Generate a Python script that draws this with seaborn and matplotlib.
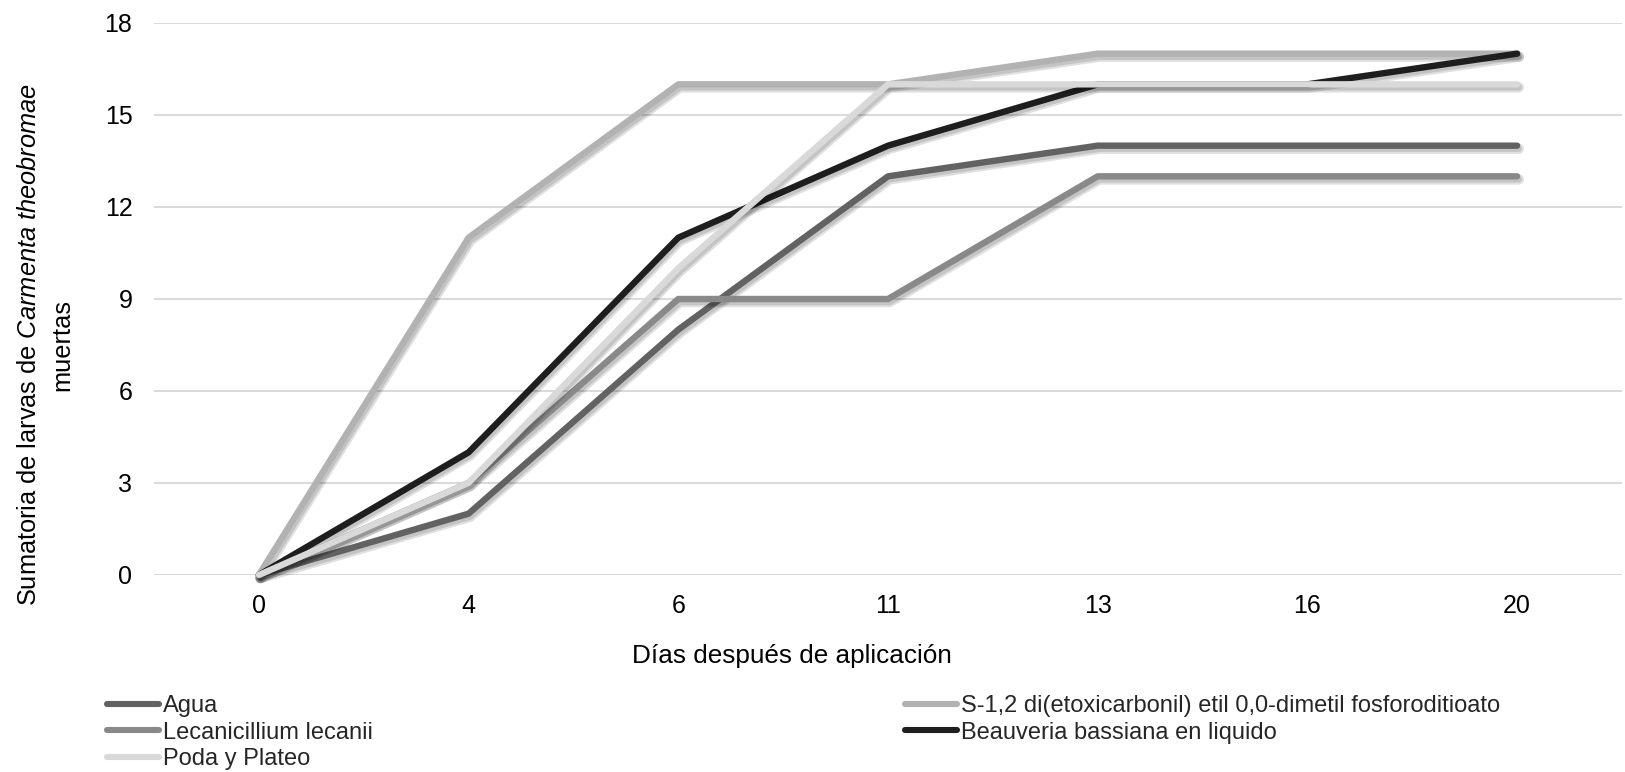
import matplotlib
matplotlib.use("Agg")
import matplotlib.pyplot as plt
import matplotlib.patheffects as pe
from matplotlib.lines import Line2D
import pandas as pd
import seaborn as sns

# Days after application (categorical axis)
dias = ["0", "4", "6", "11", "13", "16", "20"]

# Cumulative dead larvae per treatment
agua = [0, 2, 8, 13, 14, 14, 14]
fosforoditioato = [0, 11, 16, 16, 17, 17, 17]
lecanicillium = [0, 3, 9, 9, 13, 13, 13]
beauveria = [0, 4, 11, 14, 16, 16, 17]
poda = [0, 3, 10, 16, 16, 16, 16]

tratamientos = [
    "Agua",
    "S-1,2 di(etoxicarbonil) etil 0,0-dimetil fosforoditioato",
    "Lecanicillium lecanii",
    "Beauveria bassiana en liquido",
    "Poda y Plateo",
]
series = [agua, fosforoditioato, lecanicillium, beauveria, poda]
colores = ["#626262", "#b2b2b2", "#898989", "#1e1e1e", "#d9d9d9"]

y_ticks = [0, 3, 6, 9, 12, 15, 18]

df = pd.DataFrame(
    [
        {"dia": d, "larvas": v, "tratamiento": t}
        for t, vals in zip(tratamientos, series)
        for d, v in zip(dias, vals)
    ]
)

sns.set_theme(style="white")
plt.rcParams["font.family"] = ["Liberation Sans", "DejaVu Sans"]
plt.rcParams["mathtext.fontset"] = "custom"
plt.rcParams["mathtext.rm"] = "Liberation Sans"
plt.rcParams["mathtext.it"] = "Liberation Sans:italic"

W, H = 1625, 772
fig = plt.figure(figsize=(W / 100, H / 100), dpi=100)
ax = fig.add_axes([154 / W, 1 - 575 / H, (1622 - 154) / W, (575 - 23) / H])

palette = dict(zip(tratamientos, colores))
sns.lineplot(
    data=df, x="dia", y="larvas", hue="tratamiento", hue_order=tratamientos,
    palette=palette, sort=False, linewidth=4.6, legend=False, ax=ax,
)

shadow = [
    pe.SimpleLineShadow(offset=(1.2, -2.2), shadow_color="black", alpha=0.12, linewidth=7.5),
    pe.SimpleLineShadow(offset=(1.2, -2.2), shadow_color="black", alpha=0.12),
    pe.Normal(),
]
for ln in ax.lines:
    ln.set_solid_capstyle("round")
    ln.set_solid_joinstyle("round")
    ln.set_clip_on(False)
    ln.set_path_effects(shadow)

ax.set_xlim(-0.5, len(dias) - 0.5)
ax.set_ylim(0, 18)
ax.set_yticks(y_ticks)
ax.set_yticklabels([str(v) for v in y_ticks])
ax.grid(axis="y", color="#d9d9d9", linewidth=1.4)
ax.grid(axis="x", visible=False)
ax.set_axisbelow(True)
for s in ax.spines.values():
    s.set_visible(False)
ax.tick_params(axis="both", length=0, labelsize=18, colors="black")
ax.tick_params(axis="y", pad=15.5)
ax.tick_params(axis="x", pad=14)
ax.set_xlabel("")
ax.set_ylabel("")

fig.text(792 / W, 1 - 663 / H, "Días después de aplicación", ha="center",
         va="baseline", fontsize=18.8, color="black")
fig.text(29 / W, 1 - 345 / H,
         r"Sumatoria de larvas de $\mathit{Carmenta\ theobromae}$",
         rotation=90, ha="center", va="center", fontsize=18.3, color="black")
fig.text(62 / W, 1 - 345 / H, "muertas", rotation=90, ha="center",
         va="center", fontsize=18.3, color="black")

def handles_for(names):
    return [
        Line2D([], [], color=palette[n], linewidth=4.4, solid_capstyle="round")
        for n in names
    ]

leg_fs = 17
izq = ["Agua", "Lecanicillium lecanii", "Poda y Plateo"]
der = [tratamientos[1], tratamientos[3]]
common = dict(loc="upper left", frameon=False, fontsize=leg_fs, borderpad=0,
              borderaxespad=0, handlelength=2.2, handletextpad=0.18,
              labelspacing=0.2)
leg1 = fig.legend(handles_for(izq), izq, bbox_to_anchor=(107 / W, 1 - 695 / H), **common)
leg2 = fig.legend(handles_for(der), der, bbox_to_anchor=(905 / W, 1 - 695 / H), **common)

fig.savefig("out.png", dpi=100, facecolor="white")
